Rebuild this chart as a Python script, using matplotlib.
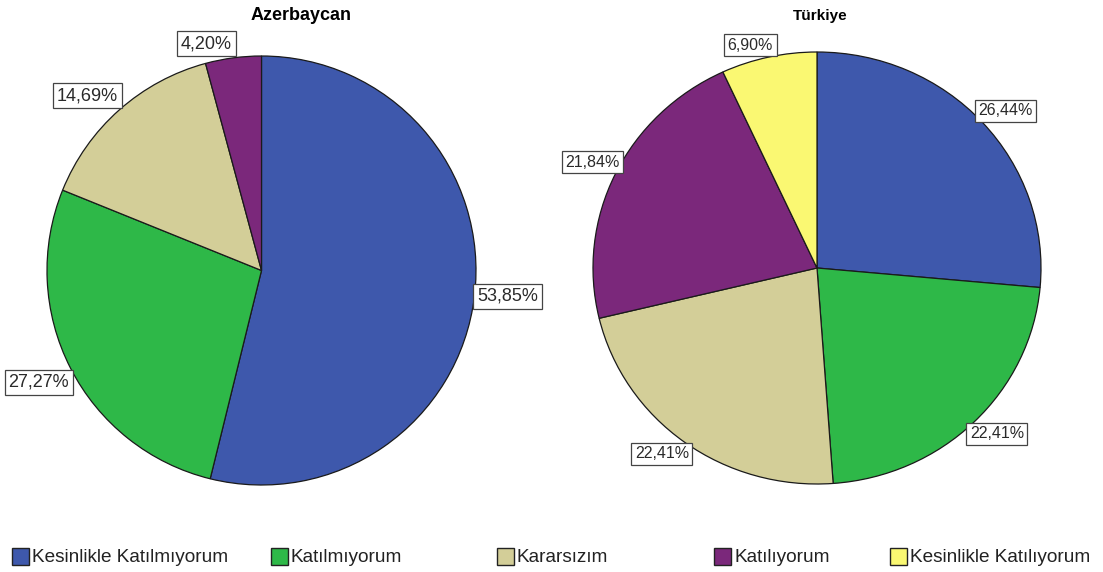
import numpy as np
import matplotlib
matplotlib.use("Agg")
import matplotlib.pyplot as plt
from matplotlib.patches import Rectangle

plt.rcParams['font.family'] = ['Liberation Sans', 'DejaVu Sans']

categories = ["Kesinlikle Katılmıyorum", "Katılmıyorum", "Kararsızım", "Katılıyorum", "Kesinlikle Katılıyorum"]
colors = ["#3E58AC", "#2EB848", "#D3CE98", "#7B287B", "#FAF872"]

az_values = [53.85, 27.27, 14.69, 4.20, 0.0]
tr_values = [26.44, 22.41, 22.41, 21.84, 6.90]

W, H = 1103, 572
fig = plt.figure(figsize=(W / 100, H / 100), dpi=100)


def pie_axes(cx, cy, rx, ry):
    return fig.add_axes([(cx - rx) / W, 1 - (cy + ry) / H, 2 * rx / W, 2 * ry / H])


def draw_pie(ax, values, fsize, offx, offy):
    vals = [v for v in values if v > 0]
    cols = [c for v, c in zip(values, colors) if v > 0]
    wedges, _ = ax.pie(vals, colors=cols, startangle=90, counterclock=False, radius=1,
                       wedgeprops=dict(edgecolor="#1a1a1a", linewidth=0.9))
    ax.set_aspect('auto')
    ax.set_xlim(-1, 1)
    ax.set_ylim(-1, 1)
    ax.axis('off')
    for w, v in zip(wedges, vals):
        mid = np.deg2rad((w.theta1 + w.theta2) / 2)
        c, s = np.cos(mid), np.sin(mid)
        ha = 'left' if c > 0 else 'right'
        if abs(s) < 0.25:
            va = 'center'
            dx = 2 if c > 0 else -2
        else:
            va = 'bottom' if s > 0 else 'top'
            dx = offx if c > 0 else -offx
        dy = 0 if va == 'center' else (offy if s > 0 else -offy)
        ax.annotate(f"{v:.2f}%".replace('.', ','), xy=(c, s), xytext=(dx, dy),
                    textcoords='offset points', ha=ha, va=va, fontsize=fsize,
                    color="#2a2a2a", annotation_clip=False,
                    bbox=dict(boxstyle='square,pad=0.22', facecolor='white',
                              edgecolor='#444444', linewidth=0.9))


ax1 = pie_axes(261.5, 270.5, 214.5, 214.5)
draw_pie(ax1, az_values, 13, 1, 4)
ax2 = pie_axes(817, 268, 224, 216)
draw_pie(ax2, tr_values, 11.5, -3, 3)

fig.text(301 / W, 1 - 15 / H, "Azerbaycan", ha='center', va='center', fontsize=13, fontweight='bold')
fig.text(820 / W, 1 - 16 / H, "Türkiye", ha='center', va='center', fontsize=11, fontweight='bold')

# legend
sq_x = [12, 271, 497, 714, 890]
ly = 556
sq = 17
for x, lab, col in zip(sq_x, categories, colors):
    fig.patches.append(Rectangle((x / W, 1 - (ly + sq / 2) / H), sq / W, sq / H,
                                 transform=fig.transFigure, facecolor=col,
                                 edgecolor='#222222', linewidth=1.0))
    fig.text((x + sq + 3) / W, 1 - (ly + 2) / H, lab, ha='left', va='center', fontsize=13.7, color='#222222')

fig.savefig("out.png", dpi=100, facecolor='white')
